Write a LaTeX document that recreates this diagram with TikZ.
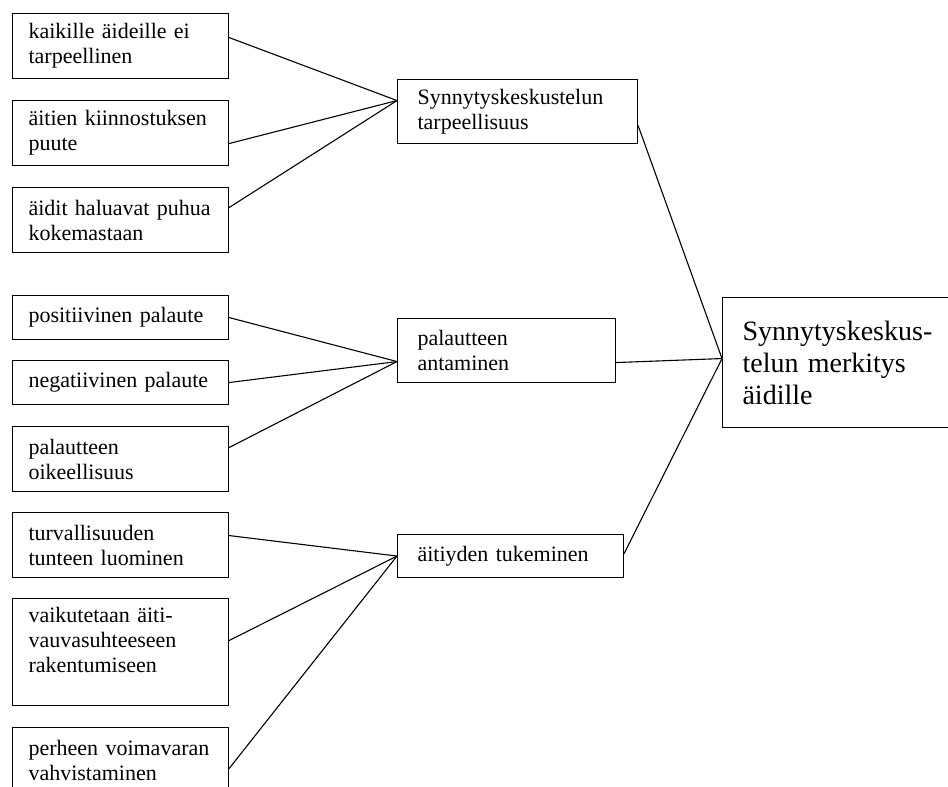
\documentclass[tikz,border=0pt]{standalone}
\usepackage{fontspec}
\setmainfont{Liberation Serif}
\begin{document}
\begin{tikzpicture}[x=1pt,y=-1pt,line width=1.1pt,
  leaf/.style={draw,rectangle,anchor=north west,align=left,text width=184pt,inner xsep=16pt,inner ysep=0pt,font=\fontsize{22}{25}\selectfont},
  mid/.style={draw,rectangle,anchor=north west,align=left,inner xsep=20pt,inner ysep=0pt,font=\fontsize{22}{25}\selectfont},
  main/.style={draw,rectangle,anchor=north west,align=left,text width=200pt,inner xsep=20pt,inner ysep=0pt,minimum height=130pt,font=\fontsize{28}{32}\selectfont}]
\useasboundingbox (0,0) rectangle (948,787);
\node[leaf,minimum height=65pt] (kaik) at (12,13) {kaikille äideille ei\\tarpeellinen};
\node[leaf,minimum height=65pt] (kiin) at (12,100) {äitien kiinnostuksen\\puute};
\node[leaf,minimum height=65pt] (puhu) at (12,187) {äidit haluavat puhua\\kokemastaan};
\node[leaf,minimum height=44pt] (posi) at (12,295) {positiivinen palaute};
\node[leaf,minimum height=44pt] (nega) at (12,360) {negatiivinen palaute};
\node[leaf,minimum height=65pt] (oike) at (12,426) {palautteen\\oikeellisuus};
\node[leaf,minimum height=65pt] (turv) at (12,512) {turvallisuuden\\tunteen luominen};
\node[leaf,minimum height=107pt] (vauv) at (12,598) {vaikutetaan äiti-\\vauvasuhteeseen\\rakentumiseen\\\mbox{}};
\node[leaf,minimum height=65pt] (voim) at (12,727) {perheen voimavaran\\vahvistaminen};
\node[mid,text width=200pt,minimum height=64pt] (tarp) at (397,79) {Synnytyskeskustelun\\tarpeellisuus};
\node[mid,text width=178pt,minimum height=64pt] (pala) at (397,318) {palautteen\\antaminen};
\node[mid,text width=186pt,minimum height=43pt] (tuki) at (397,534) {äitiyden tukeminen};
\node[main] (merk) at (722,297) {Synnytyskeskus-\\telun merkitys\\äidille};
\draw ([yshift=8.5pt]kaik.east) -- ([yshift=11pt]tarp.west);
\draw ([yshift=-10.5pt]kiin.east) -- ([yshift=11pt]tarp.west);
\draw ([yshift=12.5pt]puhu.east) -- ([yshift=11pt]tarp.west);
\draw (posi.east) -- ([yshift=-11pt]pala.west);
\draw (nega.east) -- ([yshift=-11pt]pala.west);
\draw ([yshift=11.5pt]oike.east) -- ([yshift=-11pt]pala.west);
\draw ([yshift=9.5pt]turv.east) -- (tuki.west);
\draw ([yshift=11.5pt]vauv.east) -- (tuki.west);
\draw ([yshift=-8.5pt]voim.east) -- (tuki.west);
\draw ([yshift=-14pt]tarp.east) -- ([yshift=4pt]merk.west);
\draw ([yshift=-12pt]pala.east) -- ([yshift=4pt]merk.west);
\draw ([yshift=2.5pt]tuki.east) -- ([yshift=4pt]merk.west);
\end{tikzpicture}
\end{document}
